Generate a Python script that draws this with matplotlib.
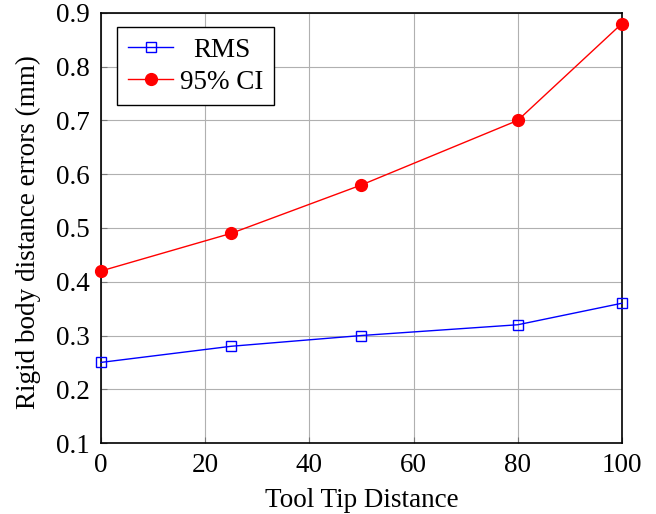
import matplotlib
matplotlib.use("Agg")
import matplotlib.pyplot as plt

# data
tip_dist = [0, 25, 50, 80, 100]
rms = [0.25, 0.28, 0.30, 0.32, 0.36]
ci95 = [0.42, 0.49, 0.58, 0.70, 0.88]

plt.rcParams['font.family'] = ['Liberation Serif', 'DejaVu Serif']

fig = plt.figure(figsize=(6.56, 5.14), dpi=100)
ax = fig.add_axes([0.154, 0.138, 0.794, 0.837])

ax.plot(tip_dist, rms, color='blue', lw=1.0, marker='s', ms=7, mfc='none', mew=1.0,
        label='RMS', clip_on=False, zorder=3)
ax.plot(tip_dist, ci95, color='red', lw=1.0, marker='o', ms=8.5,
        label='95% CI', clip_on=False, zorder=3)

ax.set_xlim(0, 100)
ax.set_ylim(0.1, 0.9)
ax.set_xticks([0, 20, 40, 60, 80, 100])
ax.set_yticks([0.1, 0.2, 0.3, 0.4, 0.5, 0.6, 0.7, 0.8, 0.9])
ax.grid(True, color='#b0b0b0', lw=0.8)
ax.tick_params(direction='in', length=4, width=0.8, labelsize=19.5, color='#777777')
ax.tick_params(axis='x', pad=7)
ax.tick_params(axis='y', pad=8)
for s in ax.spines.values():
    s.set_linewidth(1.2)

ax.set_xlabel('Tool Tip Distance', fontsize=19.5, labelpad=7)
ax.set_ylabel('Rigid body distance errors (mm)', fontsize=19.5)
ax.yaxis.set_label_coords(-0.116, 0.49)

leg = ax.legend(loc='upper left', fontsize=19.5, fancybox=False, framealpha=1,
                edgecolor='black', borderpad=0.4, handlelength=1.67, handletextpad=0.26,
                labelspacing=0.25, borderaxespad=0, bbox_to_anchor=(0.031, 0.967))
leg.get_frame().set_linewidth(1.0)

# pgfplots centres legend entries: shift the shorter label to the middle
fig.canvas.draw()
r = fig.canvas.get_renderer()
widths = [t.get_window_extent(r).width for t in leg.get_texts()]
for t, w in zip(leg.get_texts(), widths):
    t.set_position(((max(widths) - w) / 2, 0))

fig.savefig('out.png', dpi=100)
